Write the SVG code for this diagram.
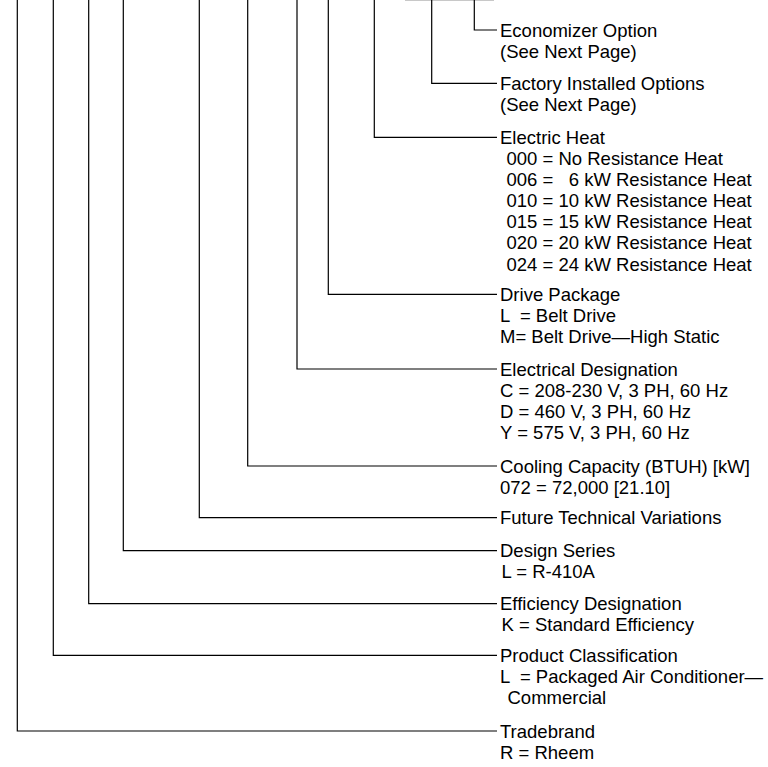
<svg xmlns="http://www.w3.org/2000/svg" width="768" height="767" viewBox="0 0 768 767">
<style>
text{font-family:"Liberation Sans",Arial,Helvetica,sans-serif;font-size:18.5px;fill:#000;white-space:pre}
.c{fill:none;stroke:#000;stroke-width:1.2}
</style>
<rect width="768" height="767" fill="#fff"/>
<g id="connectors">
<line x1="405" y1="0.5" x2="494" y2="0.5" stroke="#c8c8c8" stroke-width="1.2"/>
<polyline class="c" points="474.3,0 474.3,30 497,30"/>
<polyline class="c" points="431.7,0 431.7,83.3 497,83.3"/>
<polyline class="c" points="374.3,0 374.3,137.3 497,137.3"/>
<polyline class="c" points="328.3,0 328.3,294.3 497,294.3"/>
<polyline class="c" points="297,0 297,369 497,369"/>
<polyline class="c" points="247.7,0 247.7,466 497,466"/>
<polyline class="c" points="199.3,0 199.3,517.7 497,517.7"/>
<polyline class="c" points="123.3,0 123.3,550.7 497,550.7"/>
<polyline class="c" points="88.7,0 88.7,603.7 497,603.7"/>
<polyline class="c" points="53.3,0 53.3,655.3 497,655.3"/>
<polyline class="c" points="17.3,0 17.3,731 497,731"/>
</g>
<g id="economizer"><text x="500" y="36.6">Economizer Option</text><text x="500" y="57.7">(See Next Page)</text></g>
<g id="factory-options"><text x="500" y="89.9">Factory Installed Options</text><text x="500" y="111">(See Next Page)</text></g>
<g id="electric-heat"><text x="500" y="143.9">Electric Heat</text>
<text x="506.5" y="165">000 = No Resistance Heat</text>
<text x="506.5" y="186.1">006 =   6 kW Resistance Heat</text>
<text x="506.5" y="207.2">010 = 10 kW Resistance Heat</text>
<text x="506.5" y="228.3">015 = 15 kW Resistance Heat</text>
<text x="506.5" y="249.4">020 = 20 kW Resistance Heat</text>
<text x="506.5" y="270.5">024 = 24 kW Resistance Heat</text></g>
<g id="drive-package"><text x="500" y="300.9">Drive Package</text><text x="500" y="322">L  = Belt Drive</text><text x="500" y="343.1">M= Belt Drive—High Static</text></g>
<g id="electrical"><text x="500" y="375.6">Electrical Designation</text><text x="500" y="396.7">C = 208-230 V, 3 PH, 60 Hz</text><text x="500" y="417.8">D = 460 V, 3 PH, 60 Hz</text><text x="500" y="438.9">Y = 575 V, 3 PH, 60 Hz</text></g>
<g id="cooling"><text x="500" y="472.6">Cooling Capacity (BTUH) [kW]</text><text x="500" y="493.7">072 = 72,000 [21.10]</text></g>
<g id="future"><text x="500" y="524.3">Future Technical Variations</text></g>
<g id="design-series"><text x="500" y="557.3">Design Series</text><text x="501.5" y="578.4">L = R-410A</text></g>
<g id="efficiency"><text x="500" y="610.3">Efficiency Designation</text><text x="501.5" y="631.4">K = Standard Efficiency</text></g>
<g id="product"><text x="500" y="661.9">Product Classification</text><text x="500" y="683">L  = Packaged Air Conditioner—</text><text x="507.5" y="704.1">Commercial</text></g>
<g id="tradebrand"><text x="500" y="737.6">Tradebrand</text><text x="500" y="758.7">R = Rheem</text></g>
</svg>
